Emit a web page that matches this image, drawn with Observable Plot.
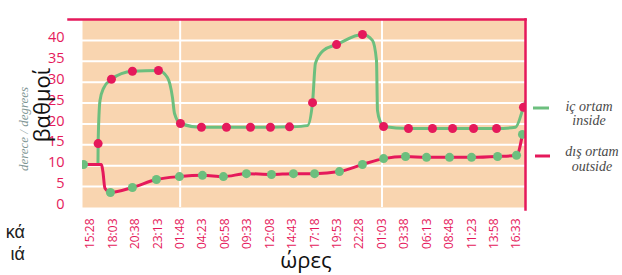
<!DOCTYPE html>
<html><head><meta charset="utf-8">
<script src="https://cdn.jsdelivr.net/npm/d3@7"></script>
<script src="https://cdn.jsdelivr.net/npm/@observablehq/plot@0.6"></script>
<style>
body{margin:0;background:#fff;}
#chart{position:relative;width:622px;height:275px;overflow:hidden;}
</style>
</head><body><div id="chart"></div>
<script>
// x tick labels (clock times), one every 155 minutes starting at 15:28
const tickLabels = ["15:28","18:03","20:38","23:13","01:48","04:23","06:58","09:33","12:08","14:43","17:18","19:53","22:28","01:03","03:38","06:13","08:48","11:23","13:58","16:33"];
const tickStepMinutes = 155;
const dividerLabels = ["01:48","01:03"];
const yTicks = [0,5,10,15,20,25,30,35,40];
const gridTemps = [5,10,15,20,25,30,35,40];

// inside (iç ortam) measurements: minutes since 15:28, temperature
const insideMinutes = [53,145,290,470,622,767,940,1106,1244,1376,1535,1701,1880,2026,2198,2364,2503,2648,2807,2993];
const insideTemps   = [15.3,30.7,32.6,32.8,20.1,19.2,19.2,19.2,19.2,19.3,25.1,39.0,41.4,19.4,18.9,18.9,18.9,18.9,18.9,24.0];
// extra bends of the inside curve
const insideBendMinutes = [52,66,90,532,567,581,1500,1555,1611,1949,1977,1984,2005,2938,3007];
const insideBendTemps   = [10.3,25.6,28.5,31.1,26.3,22.5,19.6,34.5,37.6,40.0,35.2,23.2,20.4,19.2,25.4];

// outside (dış ortam) measurements
const outsideMinutes = [-48,138,290,456,615,774,919,1078,1251,1403,1549,1721,1880,2026,2178,2323,2482,2634,2814,2945,2986];
const outsideTemps   = [10.3,3.6,4.8,6.7,7.4,7.7,7.4,8.1,7.9,8.1,8.1,8.6,10.3,11.7,12.2,12.0,12.0,12.0,12.2,12.5,17.5];
const outsideBendMinutes = [76,86,100];
const outsideBendTemps   = [10.3,8.6,4.6];

const RED = "#e5195b", GREEN = "#6cbf7e", BG = "#f9d5b0";

const pts = (ms, ts) => ms.map((m, i) => ({m, t: ts[i]}));
const inside = pts(insideMinutes, insideTemps);
const outside = pts(outsideMinutes, outsideTemps);
const insideLine = inside.concat(pts(insideBendMinutes, insideBendTemps)).sort((a,b)=>a.m-b.m);
const outsideLine = outside.concat(pts(outsideBendMinutes, outsideBendTemps)).sort((a,b)=>a.m-b.m);
const tickValues = tickLabels.map((d,i)=>i*tickStepMinutes);
const dividers = dividerLabels.map(l => tickLabels.indexOf(l)*tickStepMinutes);

const svg = Plot.plot({
  width: 622, height: 275,
  marginLeft: 82, marginRight: 97, marginTop: 19, marginBottom: 68,
  style: {background: "transparent", fontFamily: "'Open Sans', sans-serif", overflow: "visible"},
  x: {domain: [-55, 3007]},
  y: {domain: [0, 45]},
  marks: [
    Plot.frame({fill: BG}),
    Plot.ruleY(gridTemps, {stroke: "white", strokeWidth: 2}),
    Plot.ruleX(dividers, {stroke: "white", strokeWidth: 2}),
    Plot.line(insideLine, {x: "m", y: "t", stroke: GREEN, strokeWidth: 3, curve: "monotone-x", clip: true}),
    Plot.line(outsideLine, {x: "m", y: "t", stroke: RED, strokeWidth: 3, curve: "monotone-x", clip: true}),
    Plot.dot(outside, {x: "m", y: "t", fill: GREEN, r: 4.5, clip: true}),
    Plot.dot(inside, {x: "m", y: "t", fill: RED, r: 4.5, clip: true}),
    Plot.frame({anchor: "top", stroke: RED, strokeWidth: 2.5, insetLeft: -14}),
    Plot.frame({anchor: "right", stroke: RED, strokeWidth: 2.5, insetBottom: -2}),
    Plot.axisY({ticks: yTicks, tickSize: 0, tickPadding: 18, fill: RED, fontSize: 14.5, dy: -3, label: null}),
    Plot.axisX({ticks: tickValues, tickFormat: d => tickLabels[Math.round(d/tickStepMinutes)], tickRotate: -90, tickSize: 0, tickPadding: 11, fill: RED, fontSize: 12, label: null})
  ]
});
document.getElementById("chart").appendChild(svg);

const s = d3.select(svg);
// axis titles
s.append("text").attr("transform","translate(50,105) rotate(-90)").attr("text-anchor","middle")
  .attr("font-family","'Open Sans', sans-serif").attr("font-size",22).attr("fill","#111").text("βαθμοί");
s.append("text").attr("transform","translate(28,129) rotate(-90)").attr("text-anchor","middle")
  .attr("font-family","'Liberation Serif', serif").attr("font-style","italic").attr("font-size",13).attr("fill","#7f9694").text("derece / degrees");
s.append("text").attr("x",306).attr("y",268).attr("text-anchor","middle")
  .attr("font-family","'Open Sans', sans-serif").attr("font-size",22).attr("fill","#111").text("ώρες");
// cut-off side text
s.append("text").attr("x",25).attr("y",238).attr("text-anchor","end")
  .attr("font-family","'Liberation Sans', sans-serif").attr("font-size",18).attr("fill","#222").text("κά");
s.append("text").attr("x",25).attr("y",260).attr("text-anchor","end")
  .attr("font-family","'Liberation Sans', sans-serif").attr("font-size",18).attr("fill","#222").text("ιά");
// legend
const leg = [
  {c: GREEN, y: 108, x1: 533, x2: 549, l1: "iç ortam", l2: "inside", b1: 111, b2: 125, cx: 589},
  {c: RED, y: 156, x1: 535, x2: 550, l1: "dış ortam", l2: "outside", b1: 156, b2: 171, cx: 592}
];
for (const e of leg) {
  s.append("line").attr("x1",e.x1).attr("x2",e.x2).attr("y1",e.y).attr("y2",e.y).attr("stroke",e.c).attr("stroke-width",3);
  for (const [txt, b] of [[e.l1,e.b1],[e.l2,e.b2]]) {
    s.append("text").attr("x",e.cx).attr("y",b).attr("text-anchor","middle")
      .attr("font-family","'Liberation Serif', serif").attr("font-style","italic").attr("font-size",14).attr("fill","#4a4a4a").text(txt);
  }
}
</script>
</body></html>
